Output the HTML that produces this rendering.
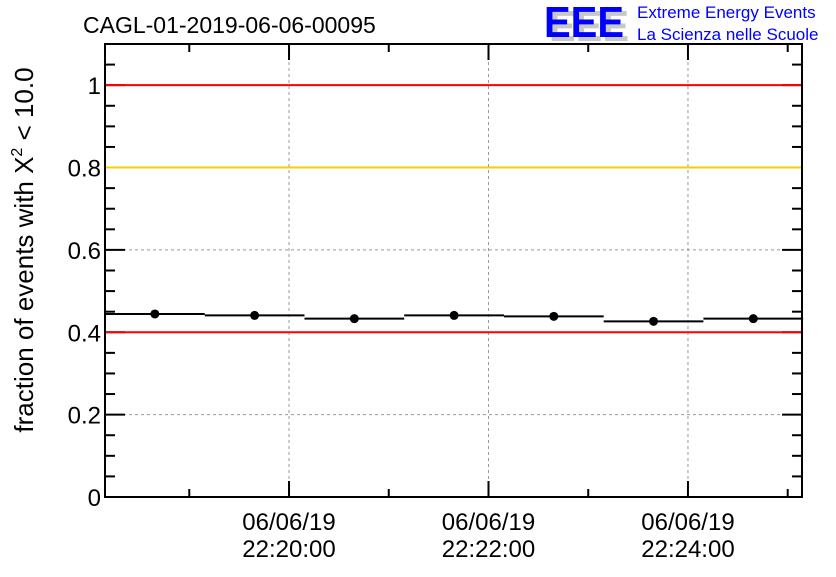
<!DOCTYPE html>
<html><head><meta charset="utf-8"><style>
body{margin:0;background:#fff}
svg text{font-family:"Liberation Sans",sans-serif}
</style></head><body>
<svg id="c" width="836" height="572" xmlns="http://www.w3.org/2000/svg">
<text x="83" y="33" font-size="23">CAGL-01-2019-06-06-00095</text>
<g>
<text x="549" y="41" font-size="44" font-weight="bold" fill="#c8c8c8" textLength="80" lengthAdjust="spacingAndGlyphs">EEE</text>
<text x="544" y="37" font-size="44" font-weight="bold" fill="#0000ff" textLength="80" lengthAdjust="spacingAndGlyphs">EEE</text>
<text x="637" y="18" font-size="17" fill="#0000ff">Extreme Energy Events</text>
<text x="637" y="40" font-size="17" fill="#0000ff">La Scienza nelle Scuole</text>
</g>
<text transform="translate(33,250) rotate(-90)" text-anchor="middle" font-size="26">fraction of events with X<tspan dy="-11" font-size="16">2</tspan><tspan dy="11"> &lt; 10.0</tspan></text>
<g id="plot"></g>
</svg>
<script>
const binStarts = [-110.7, -50.7, 9.3, 69.3, 129.3, 189.3, 249.3]; // seconds rel. 22:20:00
const binValues = [0.4445, 0.441, 0.433, 0.441, 0.4387, 0.4266, 0.433];
const binWidth = 60;
const xTickTimes = [0, 120, 240];
const xTickDates = ["06/06/19", "06/06/19", "06/06/19"];
const xTickLabels = ["22:20:00", "22:22:00", "22:24:00"];
const yTicks = [0, 0.2, 0.4, 0.6, 0.8, 1];
const yTickLabels = ["0", "0.2", "0.4", "0.6", "0.8", "1"];
const refLines = [1, 0.8, 0.4];
const refColors = ["#ff0000", "#ffcc00", "#ff0000"];

const L=105,R=802,T=44,B=497, t0=-110.7, t1=308.6, yMax=1.1;
const X=t=>L+(t-t0)/(t1-t0)*(R-L);
const Y=v=>B-v/yMax*(B-T);
const g=document.getElementById('plot');
const NS='http://www.w3.org/2000/svg';
function mk(tag,a,name){const e=document.createElementNS(NS,tag);for(const k in a)e.setAttribute(k,a[k]);


g.appendChild(e);return e;}
xTickTimes.forEach(t=>mk('line',{x1:X(t),x2:X(t),y1:T,y2:B,stroke:'#999','stroke-dasharray':'3,3'},'x-grid-line'));
yTicks.slice(1).forEach(v=>mk('line',{x1:L,x2:R,y1:Y(v),y2:Y(v),stroke:'#999','stroke-dasharray':'3,3'},'y-grid-line'));
for(let k=0;k<=22;k++){const v=k*0.05,maj=k%4==0,len=maj?20:10;
 mk('line',{x1:L,x2:L+len,y1:Y(v),y2:Y(v),stroke:'#000','stroke-width':2},'y-tick');
 mk('line',{x1:R,x2:R-len,y1:Y(v),y2:Y(v),stroke:'#000','stroke-width':2},'y-tick');}
for(let t=-60;t<=t1;t+=60){const maj=(Math.round(t)%120==0),len=maj?16:8;
 mk('line',{x1:X(t),x2:X(t),y1:B,y2:B-len,stroke:'#000','stroke-width':2},'x-tick');
 mk('line',{x1:X(t),x2:X(t),y1:T,y2:T+len,stroke:'#000','stroke-width':2},'x-tick');}
refLines.forEach((v,i)=>mk('line',{x1:L,x2:R,y1:Y(v),y2:Y(v),stroke:refColors[i],'stroke-width':2},'reference-line'));
binStarts.forEach((s,i)=>{
 mk('line',{x1:X(s),x2:X(s+binWidth),y1:Y(binValues[i]),y2:Y(binValues[i]),stroke:'#000','stroke-width':2},'bin-bar');
 mk('circle',{cx:X(s+binWidth/2),cy:Y(binValues[i]),r:4.5,fill:'#000'},'data-point');
});
mk('rect',{x:L,y:T,width:R-L,height:B-T,fill:'none',stroke:'#000','stroke-width':2},'plot-frame');
yTicks.forEach((v,i)=>{const e=mk('text',{x:L-4,y:Y(v)+9,'text-anchor':'end','font-size':24},'y-tick-label');e.textContent=yTickLabels[i];});
xTickTimes.forEach((t,i)=>{
 let e=mk('text',{x:X(t),y:530,'text-anchor':'middle','font-size':24},'x-tick-date');e.textContent=xTickDates[i];
 e=mk('text',{x:X(t),y:557,'text-anchor':'middle','font-size':24},'x-tick-label');e.textContent=xTickLabels[i];});
</script>
</body></html>
